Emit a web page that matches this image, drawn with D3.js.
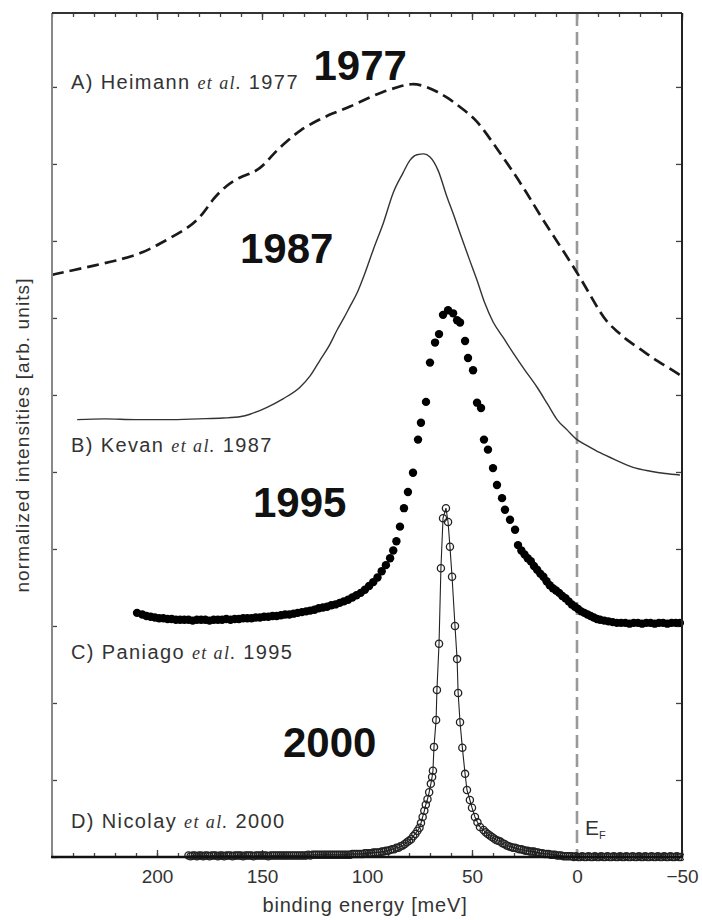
<!DOCTYPE html>
<html><head><meta charset="utf-8">
<script src="https://cdn.jsdelivr.net/npm/d3@7"></script>
<style>
html,body{margin:0;padding:0;background:#fff;}
svg{display:block;}
</style></head>
<body>
<svg id="chart" width="702" height="920"></svg>
<script>
// ---------- DATA (binding energy meV, normalized intensity arb. units) ----------
const xMajorTicks = [200, 150, 100, 50, 0, -50];
const xTickLabels = ["200", "150", "100", "50", "0", "\u221250"];
const yTicks = [0,1,2,3,4,5,6,7,8,9,10];

const seriesA_1977 = [
 [250,7.56],[240,7.62],[230,7.68],[220,7.74],[206.7,7.84],[195,8.02],[184.3,8.18],[178,8.35],
 [173.3,8.55],[167,8.72],[160.5,8.83],[155,8.88],[151,8.94],[147,9.05],[142.9,9.18],[137,9.32],
 [131.9,9.44],[124,9.56],[116.2,9.66],[108.1,9.74],[100,9.85],[92.4,9.94],[85,10.0],[78.6,10.05],
 [72,10.01],[66.7,9.94],[61,9.85],[55.7,9.74],[47.6,9.57],[40,9.27],[31.9,8.96],[23.8,8.62],
 [16.2,8.27],[6.7,7.88],[-1.4,7.53],[-6.2,7.30],[-10,7.12],[-14.3,6.94],[-19,6.83],[-23.8,6.71],
 [-30,6.60],[-36,6.48],[-42,6.38],[-49,6.26]
];

const seriesB_1987 = [
 [238,5.68],[225,5.69],[210,5.68],[195,5.68],[180,5.69],[168.6,5.70],[160,5.72],[155.7,5.75],
 [147.6,5.84],[140,5.95],[131.9,6.10],[127,6.25],[122.4,6.45],[118,6.64],[114.3,6.84],[111,7.00],
 [108.1,7.15],[104.8,7.32],[101,7.58],[97.1,7.88],[92,8.25],[87.6,8.62],[82.9,8.88],[79.5,9.05],
 [76.2,9.12],[73,9.13],[70,9.09],[66.2,8.92],[61.9,8.57],[58.5,8.32],[55.7,8.10],[51.5,7.78],
 [47.6,7.49],[44,7.20],[40,6.95],[35,6.74],[30.5,6.55],[25,6.33],[19,6.10],[14,5.88],[9.5,5.68],
 [4.5,5.54],[0,5.42],[-5,5.34],[-11,5.25],[-18,5.16],[-26.7,5.06],[-35,5.01],[-42,4.98],[-49,4.96]
];

const seriesC_1995 = [
 [209.5,3.17],[207,3.15],[205,3.13],[203,3.12],[201,3.11],[199,3.10],[197,3.10],[195,3.09],
 [193,3.09],[191,3.08],[189,3.08],[187,3.08],[185,3.08],[183,3.07],[181,3.08],[179,3.08],
 [177,3.08],[175,3.07],[173,3.08],[171,3.08],[169,3.08],[167,3.09],[165,3.08],[163,3.09],
 [161,3.09],[159,3.10],[157,3.10],[155,3.10],[153,3.11],[151,3.11],[149,3.12],[147,3.12],
 [145,3.13],[143,3.13],[141,3.14],[139,3.15],[137,3.15],[135,3.16],[133,3.17],[131,3.18],
 [129,3.19],[127,3.20],[125,3.21],[123,3.23],[121,3.24],[119,3.25],[117,3.27],[115,3.28],
 [113,3.30],[111,3.32],[109,3.34],[107,3.37],[105,3.40],[103,3.43],[101,3.47],[99,3.52],
 [97,3.57],[95,3.63],[93,3.71],[91,3.79],[89,3.88],[87.5,3.98],[86,4.10],[84.3,4.29],
 [82.4,4.53],[80.5,4.74],[78.1,4.99],[75.7,5.42],[74.3,5.64],[71.9,5.91],[70,6.42],[67.6,6.68],
 [65.7,6.79],[63.8,7.04],[61.4,7.10],[59,7.06],[57.1,6.97],[55.7,6.94],[53.3,6.70],[51.9,6.48],
 [49.5,6.32],[47.6,5.90],[45.7,5.83],[44.3,5.42],[42.4,5.29],[40,5.05],[38.1,4.83],[35.7,4.66],
 [34.3,4.51],[31.9,4.38],[29.5,4.25],[28.1,4.05],[26.5,3.98],[25,3.93],[23.5,3.88],[22,3.84],
 [20.5,3.78],[19,3.73],[17.5,3.68],[16,3.64],[14.5,3.58],[13,3.53],[11.5,3.49],[10,3.46],
 [8.5,3.43],[7,3.39],[5.5,3.36],[4,3.32],[2.5,3.28],[1,3.25],[-0.5,3.22],[-2,3.19],
 [-3.5,3.17],[-5,3.15],[-6.5,3.13],[-8,3.11],[-9.5,3.09],[-11,3.08],[-13,3.07],[-15,3.06],
 [-17,3.05],[-19,3.04],[-21,3.04],[-23,3.04],[-25,3.03],[-27,3.04],[-29,3.04],[-31,3.03],
 [-33,3.04],[-35,3.04],[-37,3.03],[-39,3.04],[-41,3.04],[-43,3.03],[-45,3.04],[-47,3.04],[-49,3.04]
];

const seriesD_2000 = [
 [185,.02],[184,.01],[183,.02],[182,.02],[181,.01],[180,.02],[179,.02],[178,.01],[177,.02],[176,.02],
 [175,.01],[174,.02],[173,.02],[172,.02],[171,.01],[170,.02],[169,.02],[168,.01],[167,.02],[166,.02],
 [165,.02],[164,.01],[163,.02],[162,.02],[161,.02],[160,.02],[159,.01],[158,.02],[157,.02],[156,.02],
 [155,.02],[154,.01],[153,.02],[152,.02],[151,.02],[150,.02],[149,.02],[148,.02],[147,.01],[146,.02],
 [145,.02],[144,.02],[143,.02],[142,.02],[141,.02],[140,.02],[139,.02],[138,.02],[137,.02],[136,.02],
 [135,.02],[134,.02],[133,.02],[132,.02],[131,.02],[130,.02],[129,.02],[128,.03],[127,.02],[126,.03],
 [125,.03],[124,.03],[123,.03],[122,.03],[121,.03],[120,.03],[119,.03],[118,.03],[117,.03],[116,.03],
 [115,.03],[114,.03],[113,.03],[112,.03],[111,.03],[110,.03],[109,.03],[108,.03],[107,.04],[106,.04],
 [105,.04],[104,.04],[103,.04],[102,.04],[101,.05],[100,.05],[99,.05],[98,.05],[97,.06],[96,.06],
 [95,.06],[94,.06],[93,.07],[92,.07],[91,.08],[90,.08],[89,.09],[88,.10],[87,.10],[86,.12],
 [85,.12],[84,.14],[83,.15],[82,.17],[81,.19],[80,.21],[79,.23],[78,.27],[77,.30],[76,.34],
 [75,.38],[74.3,.44],[73.5,.52],[72.7,.60],[72,.68],[71.2,.75],[70.4,.84],[69.6,.95],[69,1.04],[68.6,1.12],
 [68.1,1.43],[67.1,1.78],[66.7,2.17],[65.7,2.77],[64.8,3.75],[63.8,4.40],[62.4,4.53],[61.4,4.35],[60.5,4.03],[59.5,3.64],
 [58.1,3.00],[57.1,2.57],[56.6,2.13],[55.7,1.75],[54.6,1.42],[53.3,1.08],[52.4,.87],[51,.74],[50,.64],[48.6,.52],
 [47.4,.45],[46.2,.39],[44.5,.35],[43.5,.32],[42.5,.30],[41.5,.28],[40.5,.26],[39.5,.24],[38.5,.22],[37.5,.21],
 [36.5,.20],[35.5,.18],[34.5,.17],[33.5,.15],[32.5,.14],[31.5,.13],[30.5,.12],[29.5,.12],[28.5,.11],[27.5,.10],
 [26.5,.10],[25.5,.09],[24.5,.08],[23.5,.08],[22.5,.07],[21.5,.07],[20.5,.07],[19.5,.06],[18.5,.06],[17.5,.05],
 [16.5,.05],[15.5,.04],[14.5,.04],[13.5,.04],[12.5,.03],[11.5,.03],[10.5,.03],[9.5,.02],[8.5,.02],[7.5,.02],
 [6.5,.01],[5.5,.01],[4.5,.01],[3.5,.01],[2.5,.01],[1.5,0],[.5,.01],[-.5,0],[-1.5,0],[-2.5,.01],
 [-3.5,0],[-4.5,0],[-5.5,.01],[-6.5,0],[-7.5,0],[-8.5,.01],[-9.5,0],[-10.5,0],[-11.5,.01],[-12.5,0],
 [-13.5,0],[-14.5,.01],[-15.5,0],[-16.5,0],[-17.5,.01],[-18.5,0],[-19.5,0],[-20.5,.01],[-21.5,0],[-22.5,0],
 [-23.5,.01],[-24.5,0],[-25.5,0],[-26.5,.01],[-27.5,0],[-28.5,0],[-29.5,.01],[-30.5,0],[-31.5,0],[-32.5,.01],
 [-33.5,0],[-34.5,0],[-35.5,.01],[-36.5,0],[-37.5,0],[-38.5,.01],[-39.5,0],[-40.5,0],[-41.5,.01],[-42.5,0],
 [-43.5,0],[-44.5,.01],[-45.5,0],[-46.5,0],[-47.5,.01],[-48.5,0],[-49.5,0]
];

const curveLabelNames = [
 ["A) Heimann ", "et al.", " 1977"],
 ["B) Kevan ",   "et al.", " 1987"],
 ["C) Paniago ", "et al.", " 1995"],
 ["D) Nicolay ", "et al.", " 2000"]
];
const yearNames = ["1977", "1987", "1995", "2000"];

// ---------- LAYOUT ----------
const svg = d3.select("#chart");
const W = 702, H = 920;
const x = d3.scaleLinear().domain([250, -50]).range([52, 682]);
const y = d3.scaleLinear().domain([0, 10.96]).range([857, 13]);
const sans = "Liberation Sans, Arial, Helvetica, sans-serif";
const textColor = "#333";

svg.append("rect").attr("width", W).attr("height", H).attr("fill", "#fff");
svg.append("defs").append("clipPath").attr("id", "clip")
  .append("rect").attr("x", 52).attr("y", 13).attr("width", 632).attr("height", 850);

// axes (ticks inward)
const minorTicks = d3.range(-50, 251, 10);
function styleAxis(g){
  g.select(".domain").remove();
  g.selectAll(".tick line").attr("stroke", "#444").attr("stroke-width", 1.3);
}
svg.append("g").attr("transform", `translate(0,${y(0)})`)
  .call(d3.axisBottom(x).tickValues(minorTicks).tickSize(-4).tickFormat(""))
  .call(styleAxis);
svg.append("g").attr("transform", `translate(0,${y(0)})`)
  .call(d3.axisBottom(x).tickValues(xMajorTicks).tickSize(-7).tickPadding(13)
        .tickFormat((d, i) => xTickLabels[i]))
  .call(styleAxis)
  .call(g => g.selectAll("text").attr("font-family", sans)
        .attr("font-size", 19).attr("fill", textColor));
svg.append("g").attr("transform", `translate(0,${y.range()[1]})`)
  .call(d3.axisTop(x).tickValues(minorTicks).tickSize(-4).tickFormat(""))
  .call(styleAxis);
svg.append("g").attr("transform", `translate(0,${y.range()[1]})`)
  .call(d3.axisTop(x).tickValues(xMajorTicks).tickSize(-7).tickFormat(""))
  .call(styleAxis);
svg.append("g").attr("transform", `translate(${x.range()[0]},0)`)
  .call(d3.axisLeft(y).tickValues(yTicks).tickSize(-5).tickFormat(""))
  .call(styleAxis);
svg.append("g").attr("transform", `translate(${x.range()[1]},0)`)
  .call(d3.axisRight(y).tickValues(yTicks).tickSize(-6).tickFormat(""))
  .call(styleAxis);

// Fermi level dashed line
svg.append("line")
  .attr("x1", x(0)).attr("x2", x(0)).attr("y1", y.range()[1]).attr("y2", y(0))
  .attr("stroke", "#999").attr("stroke-width", 2.6).attr("stroke-dasharray", "13,6");

const plot = svg.append("g").attr("clip-path", "url(#clip)");

// A: dashed line
plot.append("path").datum(seriesA_1977)
  .attr("d", d3.line().x(d => x(d[0])).y(d => y(d[1])).curve(d3.curveBasis))
  .attr("fill", "none").attr("stroke", "#1a1a1a").attr("stroke-width", 2.7)
  .attr("stroke-dasharray", "12,6");

// B: thin line
plot.append("path").datum(seriesB_1987)
  .attr("d", d3.line().x(d => x(d[0])).y(d => y(d[1])).curve(d3.curveMonotoneX))
  .attr("fill", "none").attr("stroke", "#333").attr("stroke-width", 1.4);

// C: filled dots
plot.append("g").selectAll("circle").data(seriesC_1995).join("circle")
  .attr("cx", d => x(d[0])).attr("cy", d => y(d[1])).attr("r", 4.2)
  .attr("fill", "#000");

// D: open circles joined by a thin line
plot.append("path").datum(seriesD_2000)
  .attr("d", d3.line().x(d => x(d[0])).y(d => y(d[1])))
  .attr("fill", "none").attr("stroke", "#222").attr("stroke-width", 1.1);
plot.append("g").selectAll("circle").data(seriesD_2000).join("circle")
  .attr("cx", d => x(d[0])).attr("cy", d => y(d[1])).attr("r", 3.6)
  .attr("fill", "none").attr("stroke", "#222").attr("stroke-width", 1.3);

// frame
svg.append("line").attr("x1", 52).attr("x2", 52).attr("y1", 13).attr("y2", 857)
  .attr("stroke", "#888").attr("stroke-width", 2);
svg.append("line").attr("x1", 52).attr("x2", 682).attr("y1", 13).attr("y2", 13)
  .attr("stroke", "#333").attr("stroke-width", 2);
svg.append("line").attr("x1", 682).attr("x2", 682).attr("y1", 13).attr("y2", 857)
  .attr("stroke", "#222").attr("stroke-width", 2);
svg.append("line").attr("x1", 51).attr("x2", 683).attr("y1", 857).attr("y2", 857)
  .attr("stroke", "#111").attr("stroke-width", 2.4);

// curve labels (anchor positions in data coordinates)
const curveLabelPos = [[241, 9.97], [241, 5.26], [241, 2.57], [241, 0.38]];
curveLabelNames.forEach((l, i) => {
  const t = svg.append("text").attr("x", x(curveLabelPos[i][0])).attr("y", y(curveLabelPos[i][1]))
    .attr("font-family", sans).attr("font-size", 20).attr("letter-spacing", 1.4)
    .attr("fill", textColor);
  t.append("tspan").text(l[0]);
  t.append("tspan").text(l[1]).attr("font-family", "Liberation Serif, Times New Roman, serif")
    .attr("font-style", "italic").attr("font-size", 18);
  t.append("tspan").text(l[2]);
});

// big year labels
const yearPos = [[125.5, 10.09], [160.5, 7.72], [154.3, 4.42], [140, 1.30]];
yearNames.forEach((t, i) => {
  svg.append("text").attr("x", x(yearPos[i][0])).attr("y", y(yearPos[i][1])).text(t)
    .attr("font-family", sans).attr("font-weight", "bold")
    .attr("font-size", 42).attr("fill", "#111");
});

// E_F
const ef = svg.append("text").attr("x", x(0) + 8).attr("y", 835)
  .attr("font-family", sans).attr("font-size", 21).attr("fill", textColor);
ef.append("tspan").text("E");
ef.append("tspan").text("F").attr("font-size", 11).attr("dy", 4);

// axis titles
svg.append("text").attr("x", 365).attr("y", 912).attr("text-anchor", "middle")
  .attr("font-family", sans).attr("font-size", 20).attr("letter-spacing", 0.8)
  .attr("fill", textColor).text("binding energy [meV]");
svg.append("text").attr("transform", "translate(29,435) rotate(-90)").attr("text-anchor", "middle")
  .attr("font-family", sans).attr("font-size", 19).attr("letter-spacing", 1.1)
  .attr("fill", textColor).text("normalized intensities [arb. units]");
</script>
</body></html>
